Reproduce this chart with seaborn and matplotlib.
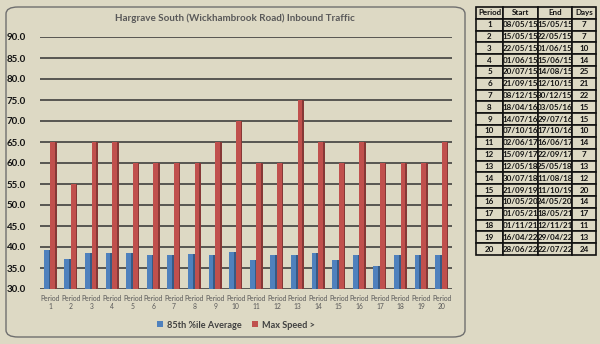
import matplotlib
matplotlib.use('Agg')
import matplotlib.pyplot as plt
import seaborn as sns
import pandas as pd
from matplotlib.patches import FancyBboxPatch

# Chart data
periods = [f'Period\n{i}' for i in range(1, 21)]
avg_85th = [39.4, 37.2, 38.5, 38.5, 38.6, 38.0, 38.0, 38.4, 38.1, 38.8,
            37.0, 38.0, 38.0, 38.6, 36.9, 38.0, 35.4, 38.1, 38.2, 38.2]
max_speed = [65, 55, 65, 65, 60, 60, 60, 60, 65, 70,
             60, 60, 75, 65, 60, 65, 60, 60, 60, 65]
series_names = ['85th %ile Average', 'Max Speed >']

# Table data
tbl_period = [str(i) for i in range(1, 21)]
tbl_start = ['08/05/15', '15/05/15', '22/05/15', '01/06/15', '20/07/15', '21/09/15', '08/12/15',
             '18/04/16', '14/07/16', '07/10/16', '02/06/17', '15/09/17', '12/05/18', '30/07/18',
             '21/09/19', '10/05/20', '01/05/21', '01/11/21', '16/04/22', '28/06/22']
tbl_end = ['15/05/15', '22/05/15', '01/06/15', '15/06/15', '14/08/15', '12/10/15', '30/12/15',
           '03/05/16', '29/07/16', '17/10/16', '16/06/17', '22/09/17', '25/05/18', '11/08/18',
           '11/10/19', '24/05/20', '18/05/21', '12/11/21', '29/04/22', '22/07/22']
tbl_days = ['7', '7', '10', '14', '25', '21', '22', '15', '15', '10',
            '14', '7', '13', '12', '20', '14', '17', '11', '13', '24']
tbl_header = ['Period', 'Start', 'End', 'Days']

bg = '#DDD9C4'
blue = '#4F81BD'
red = '#C0504D'

sns.set_style('white')
plt.rcParams['font.family'] = ['Lato', 'DejaVu Sans']

df = pd.DataFrame({
    'period': periods * 2,
    'value': avg_85th + max_speed,
    'series': [series_names[0]] * 20 + [series_names[1]] * 20,
})

fig = plt.figure(figsize=(6, 3.44), dpi=100)
fig.patch.set_facecolor(bg)

# rounded chart panel
panel = FancyBboxPatch((6 / 600, 7 / 344), 459 / 600, 330 / 344,
                       boxstyle='round,pad=0,rounding_size=0.02',
                       transform=fig.transFigure, facecolor=bg,
                       edgecolor='#6f6f6f', linewidth=1.0, zorder=-5)
fig.patches.append(panel)

ax = fig.add_axes([40 / 600, 55 / 344, 412 / 600, 252 / 344])
ax.set_facecolor('none')
sns.barplot(data=df, x='period', y='value', hue='series', ax=ax,
            palette=[blue, red], width=0.64, saturation=1,
            edgecolor='none', zorder=3)
xlim = ax.get_xlim()
xticks = ax.get_xticks()

# darker right-hand face to hint at the 3D bars
for bar in list(ax.patches):
    if bar.get_height() <= 0:
        continue
    fc = bar.get_facecolor()
    dark = tuple(c * 0.7 for c in fc[:3])
    w = bar.get_width() * 0.25
    ax.bar(bar.get_x() + bar.get_width() - w / 2, bar.get_height(), width=w,
           bottom=bar.get_y(), color=dark, zorder=4, linewidth=0)

ax.set_xlim(xlim)
ax.set_xticks(xticks)
ax.set_xticklabels(periods)
ax.set_ylim(30, 90)
ax.set_yticks(range(30, 91, 5))
ax.set_yticklabels([f'{v:.1f}' for v in range(30, 91, 5)],
                   fontsize=7, fontweight='bold', color='#111111')
ax.tick_params(axis='x', labelsize=4.9, labelcolor='#595959', length=0, pad=4)
ax.tick_params(axis='y', length=0, pad=10)
ax.yaxis.grid(True, color='#333333', linewidth=1.1, zorder=0)
ax.set_axisbelow(True)
for s in ax.spines.values():
    s.set_visible(False)
ax.set_xlabel('')
ax.set_ylabel('')

# legend at bottom
handles, labels = ax.get_legend_handles_labels()
ax.legend(handles[:2], labels[:2], loc='center', bbox_to_anchor=(236 / 600, 19 / 344),
          bbox_transform=fig.transFigure, ncol=2, frameon=False,
          prop={'size': 6.6, 'weight': 'bold'}, labelcolor='#404040',
          handlelength=0.6, handleheight=0.6, handletextpad=0.4, columnspacing=1.2)

fig.text(235 / 600, 1 - 18 / 344, 'Hargrave South (Wickhambrook Road) Inbound Traffic',
         ha='center', va='center', fontsize=7.1, fontweight='bold', color='#595959')

# period table on the right
tax = fig.add_axes([476 / 600, 1 - 255 / 344, 120 / 600, 248 / 344])
tax.axis('off')
rows = [[p, s, e, d] for p, s, e, d in zip(tbl_period, tbl_start, tbl_end, tbl_days)]
table = tax.table(cellText=rows, colLabels=tbl_header, cellLoc='center',
                  colWidths=[27, 35, 34, 24], bbox=[0, 0, 1, 1])
table.auto_set_font_size(False)
for (r, c), cell in table.get_celld().items():
    cell.set_facecolor(bg)
    cell.set_edgecolor('#111111')
    cell.set_linewidth(1.2)
    cell.PAD = 0.02
    txt = cell.get_text()
    txt.set_fontsize(5.8)
    txt.set_fontweight('bold')
    txt.set_color('#111111')

fig.savefig('out.png', dpi=100, facecolor=bg)
